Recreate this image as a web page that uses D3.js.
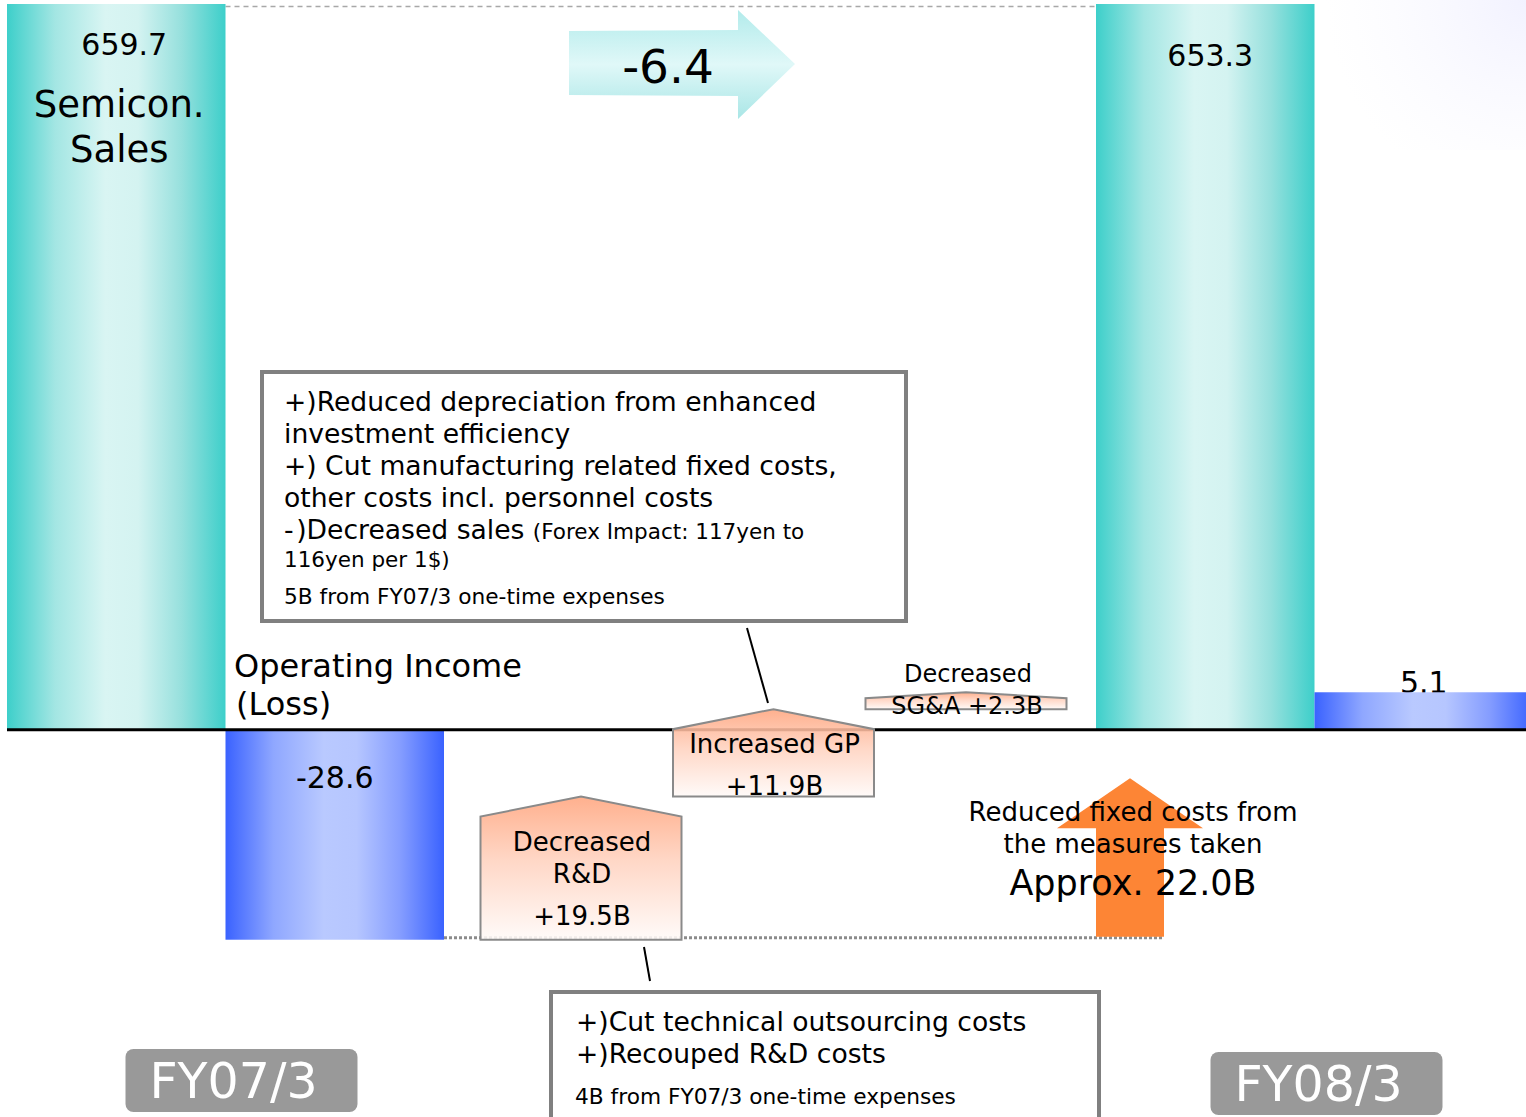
<!DOCTYPE html>
<html>
<head>
<meta charset="utf-8">
<script src="https://cdn.jsdelivr.net/npm/d3@7"></script>
<style>
  html, body { margin: 0; padding: 0; background: #ffffff; }
  svg { display: block; }
</style>
</head>
<body>
<script>
// ---- data -------------------------------------------------------------
const periods = ["FY07/3", "FY08/3"];
const sales = [659.7, 653.3];            // semiconductor sales (B yen)
const operatingIncome = [-28.6, 5.1];    // operating income (loss) (B yen)

const stepKeys = ["rd", "gp", "sga"];
const stepValues = [19.5, 11.9, 2.3];
const stepLabels = [
  ["Decreased", "R&D", "+19.5B"],
  ["Increased GP", "+11.9B"],
  ["Decreased", "SG&A +2.3B"]
];
const fixedCostCut = 22.0;
const fixedCostLabel = ["Reduced fixed costs from", "the measures taken"];

const grossProfitNotes = [
  "+)Reduced depreciation from enhanced",
  "investment efficiency",
  "+) Cut manufacturing related fixed costs,",
  "other costs incl. personnel costs"
];
const salesNote = "-\u200A)Decreased sales";
const forexNote = ["(Forex Impact: 117yen to", "116yen per 1$)"];
const grossProfitFootnote = "5B from FY07/3 one-time expenses";

const rdNotes = ["+)Cut technical outsourcing costs", "+)Recouped R&D costs"];
const rdFootnote = "4B from FY07/3 one-time expenses";

// ---- canvas -----------------------------------------------------------
const W = 1526, H = 1117;
const svg = d3.select("body").append("svg")
  .attr("width", W).attr("height", H)
  .style("font-family", "'DejaVu Sans', Verdana, sans-serif");

const defs = svg.append("defs");
function hGrad(id, stops) {
  const g = defs.append("linearGradient").attr("id", id)
    .attr("x1", 0).attr("x2", 1).attr("y1", 0).attr("y2", 0);
  stops.forEach(([o, c]) => g.append("stop").attr("offset", o).attr("stop-color", c));
}
function vGrad(id, stops) {
  const g = defs.append("linearGradient").attr("id", id)
    .attr("x1", 0).attr("x2", 0).attr("y1", 0).attr("y2", 1);
  stops.forEach(([o, c]) => g.append("stop").attr("offset", o).attr("stop-color", c));
}
hGrad("teal", [[0, "#3dcfca"], [0.22, "#a3e6e3"], [0.45, "#d9f5f3"], [0.6, "#d4f3f1"], [0.8, "#96e0dd"], [1, "#3dcfca"]]);
hGrad("blue", [[0, "#3a62ff"], [0.22, "#8fa7ff"], [0.45, "#b9c9ff"], [0.6, "#b6c6ff"], [0.8, "#859dff"], [1, "#3a62ff"]]);
vGrad("salmon", [[0, "#ffa57e"], [0.45, "#ffd2bf"], [1, "#fffaf8"]]);
vGrad("cyan", [[0, "#b2ebeb"], [0.5, "#e0f8f8"], [1, "#a9e6e6"]]);
const haze = defs.append("radialGradient").attr("id", "haze")
  .attr("gradientUnits", "userSpaceOnUse").attr("cx", W).attr("cy", 0).attr("r", 200);
haze.append("stop").attr("offset", 0).attr("stop-color", "#f2f2ff").attr("stop-opacity", 1);
haze.append("stop").attr("offset", 1).attr("stop-color", "#f8f8ff").attr("stop-opacity", 0);

// faint backdrop in the upper-right corner
svg.append("rect").attr("x", W - 210).attr("y", 0).attr("width", 210).attr("height", 150)
  .attr("fill", "url(#haze)");

// ---- scales -----------------------------------------------------------
const periodX = d3.scalePoint().domain(periods).range([7, 1096]);
const kindX = d3.scaleBand().domain(["sales", "oi"]).range([0, 437]);
// sales sit on a broken axis: capped well above the operating-income range
const salesY = d3.scaleLinear().domain([0, 640]).range([730, 4]).clamp(true);
const oiY = d3.scaleLinear().domain([-30, 5]).range([950, 693]);
const stepX = d3.scalePoint().domain(stepKeys).range([581, 966]);

const bw = kindX.bandwidth();
const font = (sel, size) => sel.style("font-size", size + "px").attr("fill", "#000");
const fmt = v => d3.format(".1f")(v).replace("\u2212", "-");

// dashed guide between the two sales bars
svg.append("line")
  .attr("x1", periodX(periods[0]) + kindX("sales") + bw)
  .attr("x2", periodX(periods[1]) + kindX("sales"))
  .attr("y1", salesY(sales[0]) + 2.5).attr("y2", salesY(sales[0]) + 2.5)
  .attr("stroke", "#a8a8a8").attr("stroke-width", 1.5).attr("stroke-dasharray", "5 4");

// 5.1 label sits just behind the top of its bar
font(svg.append("text"), 30)
  .attr("x", periodX(periods[1]) + kindX("oi") + bw / 2)
  .attr("y", oiY(operatingIncome[1]) + 1)
  .attr("text-anchor", "middle")
  .text(fmt(operatingIncome[1]));

// ---- sales bars -------------------------------------------------------
svg.selectAll("rect.sales").data(periods).join("rect").attr("class", "sales")
  .attr("x", p => periodX(p) + kindX("sales"))
  .attr("width", bw)
  .attr("y", (p, i) => salesY(sales[i]))
  .attr("height", (p, i) => salesY(0) - salesY(sales[i]))
  .attr("fill", "url(#teal)");

svg.selectAll("text.salesVal").data(periods).join("text").attr("class", "salesVal")
  .attr("x", p => periodX(p) + kindX("sales") + bw / 2 + (p === periods[0] ? 8 : 5))
  .attr("y", (p, i) => salesY(sales[i]) + (i === 0 ? 51 : 62))
  .attr("text-anchor", "middle")
  .style("font-size", "30px")
  .text((p, i) => fmt(sales[i]));

const salesTitle = font(svg.append("text"), 37).attr("text-anchor", "middle");
salesTitle.append("tspan").attr("x", periodX(periods[0]) + kindX("sales") + bw / 2 + 3).attr("y", 117).text("Semicon.");
salesTitle.append("tspan").attr("x", periodX(periods[0]) + kindX("sales") + bw / 2 + 3).attr("y", 162).text("Sales");

// ---- operating income bars -------------------------------------------
svg.selectAll("rect.oi").data(periods).join("rect").attr("class", "oi")
  .attr("x", p => periodX(p) + kindX("oi"))
  .attr("width", bw)
  .attr("y", (p, i) => oiY(Math.max(0, operatingIncome[i])))
  .attr("height", (p, i) => Math.abs(oiY(operatingIncome[i]) - oiY(0)))
  .attr("fill", "url(#blue)");

font(svg.append("text"), 30)
  .attr("x", periodX(periods[0]) + kindX("oi") + bw / 2)
  .attr("y", oiY(0) + 58)
  .attr("text-anchor", "middle")
  .text(fmt(operatingIncome[0]));

const oiTitle = font(svg.append("text"), 32);
oiTitle.append("tspan").attr("x", 234).attr("y", 677).text("Operating Income");
oiTitle.append("tspan").attr("x", 236).attr("y", 715).text("(Loss)");

// dotted guide at the FY07/3 loss level
svg.append("line")
  .attr("x1", periodX(periods[0]) + kindX("oi") + bw)
  .attr("x2", 1162)
  .attr("y1", oiY(operatingIncome[0]) - 2).attr("y2", oiY(operatingIncome[0]) - 2)
  .attr("stroke", "#8c8c8c").attr("stroke-width", 3).attr("stroke-dasharray", "3 2");

// zero line
svg.append("line")
  .attr("x1", 7).attr("x2", W)
  .attr("y1", oiY(0)).attr("y2", oiY(0))
  .attr("stroke", "#000").attr("stroke-width", 3);

// ---- fixed-cost reduction arrow --------------------------------------
{
  const cx = periodX(periods[1]) + 34;
  const yb = oiY(operatingIncome[0]) - 3;
  const yt = oiY(operatingIncome[0] + fixedCostCut);
  const head = 50, sw = 34, hw = 73;
  const pts = [[cx - sw, yb], [cx - sw, yt + head], [cx - hw, yt + head], [cx, yt],
               [cx + hw, yt + head], [cx + sw, yt + head], [cx + sw, yb]];
  svg.append("path").attr("d", d3.line()(pts) + "Z").attr("fill", "#fd8535");
  const t = font(svg.append("text"), 26).attr("text-anchor", "middle");
  fixedCostLabel.forEach((s, i) => t.append("tspan").attr("x", cx + 3).attr("y", 821 + i * 32).text(s));
  font(svg.append("text"), 35).attr("text-anchor", "middle")
    .attr("x", cx + 3).attr("y", 895)
    .text(`Approx. ${fmt(fixedCostCut)}B`);
}

// ---- waterfall steps --------------------------------------------------
{
  let level = operatingIncome[0];
  const w = 201;
  stepKeys.forEach((k, i) => {
    const start = level, end = level + stepValues[i];
    level = end;
    const cx = stepX(k);
    const yb = oiY(start), yt = oiY(end);
    const roof = Math.min(20, 0.35 * (yb - yt));
    const pts = [[cx - w / 2, yb], [cx - w / 2, yt + roof], [cx, yt], [cx + w / 2, yt + roof], [cx + w / 2, yb]];
    const lines = stepLabels[i];
    const size = k === "sga" ? 24 : 26;
    // label lines measured from the bottom of the step
    const offsets = k === "rd" ? [-89, -57, -15] : k === "gp" ? [-44, -2] : [-27, 5];
    if (k === "sga") {
      font(svg.append("text"), size).attr("text-anchor", "middle")
        .attr("x", cx + 2).attr("y", yb + offsets[0]).text(lines[0]);
    }
    svg.append("path").attr("d", d3.line()(pts) + "Z")
      .attr("fill", "url(#salmon)").attr("fill-opacity", 0.88)
      .attr("stroke", "#8a8a8a").attr("stroke-width", 2);
    lines.forEach((s, j) => {
      if (k === "sga" && j === 0) return;
      font(svg.append("text"), size).attr("text-anchor", "middle")
        .attr("x", cx + 1).attr("y", yb + offsets[j]).text(s);
    });
  });
}

// ---- sales change arrow (-6.4) ---------------------------------------
{
  const x0 = 569, xs = 738, xt = 795, cy = 64;
  const pts = [[x0, cy - 33], [xs, cy - 34], [xs, cy - 54], [xt, cy], [xs, cy + 55], [xs, cy + 32], [x0, cy + 31]];
  svg.append("path").attr("d", d3.line()(pts) + "Z").attr("fill", "url(#cyan)");
  font(svg.append("text"), 47).attr("text-anchor", "middle")
    .attr("x", 668).attr("y", 83)
    .text(fmt(sales[1] - sales[0]));
}

// ---- callout boxes ----------------------------------------------------
svg.append("line").attr("x1", 747).attr("y1", 628).attr("x2", 768).attr("y2", 703)
  .attr("stroke", "#000").attr("stroke-width", 2);
svg.append("rect").attr("x", 262).attr("y", 372).attr("width", 644).attr("height", 249)
  .attr("fill", "#fff").attr("stroke", "#808080").attr("stroke-width", 4);
{
  const t = font(svg.append("text"), 26.6);
  grossProfitNotes.forEach((s, i) => t.append("tspan").attr("x", 284).attr("y", 411 + i * 32).text(s));
  const l5 = font(svg.append("text"), 26.6).attr("x", 284).attr("y", 539);
  l5.append("tspan").text(salesNote + " ");
  l5.append("tspan").style("font-size", "21.5px").text(forexNote[0]);
  font(svg.append("text"), 21.5).attr("x", 284).attr("y", 567).text(forexNote[1]);
  font(svg.append("text"), 21.7).attr("x", 284).attr("y", 604).text(grossProfitFootnote);
}

svg.append("line").attr("x1", 644).attr("y1", 947).attr("x2", 650).attr("y2", 981)
  .attr("stroke", "#000").attr("stroke-width", 2);
svg.append("rect").attr("x", 551).attr("y", 992).attr("width", 548).attr("height", 140)
  .attr("fill", "#fff").attr("stroke", "#808080").attr("stroke-width", 4);
{
  const t = font(svg.append("text"), 26.6);
  rdNotes.forEach((s, i) => t.append("tspan").attr("x", 576).attr("y", 1031 + i * 32).text(s));
  font(svg.append("text"), 21.7).attr("x", 575).attr("y", 1104).text(rdFootnote);
}

// ---- period labels ----------------------------------------------------
const periodLabel = svg.selectAll("g.period").data(periods).join("g").attr("class", "period")
  .attr("transform", (p, i) => `translate(${periodX(p) + kindX("oi") + (i === 0 ? 16 : 12)},${1049 + i * 3})`);
periodLabel.append("rect").attr("x", -116).attr("y", 0).attr("width", 232).attr("height", 63)
  .attr("rx", 8).attr("fill", "#999999");
periodLabel.append("text").attr("text-anchor", "middle").attr("x", -8).attr("y", 49)
  .attr("fill", "#fff").style("font-size", "49px").text(p => p);
</script>
</body>
</html>
